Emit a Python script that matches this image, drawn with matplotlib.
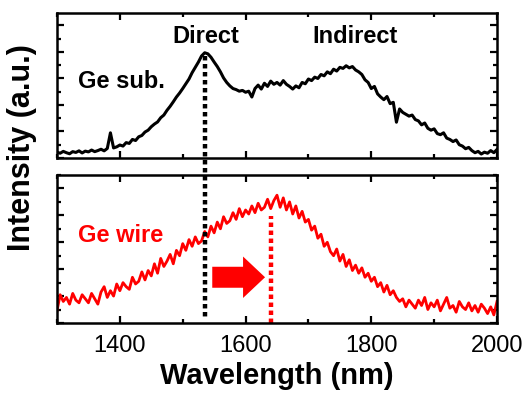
import numpy as np
import matplotlib
matplotlib.use("Agg")
import matplotlib.pyplot as plt
from matplotlib.ticker import MultipleLocator, NullFormatter
from matplotlib.lines import Line2D

plt.rcParams['font.family'] = ['Liberation Sans', 'DejaVu Sans']

# ---- data ----
wavelength = np.arange(1300, 2001, 5)

ge_sub = [
    0.22, 0.18, 0.25, 0.20, 0.16, 0.24, 0.21, 0.27, 0.19, 0.26,
    0.23, 0.30, 0.24, 0.28, 0.33, 0.27, 0.36, 0.95, 0.38, 0.42,
    0.49, 0.45, 0.58, 0.55, 0.70, 0.66, 0.80, 0.85, 0.98, 1.05,
    1.18, 1.28, 1.36, 1.52, 1.62, 1.80, 1.95, 2.12, 2.30, 2.45,
    2.62, 2.80, 2.98, 3.22, 3.42, 3.62, 3.85, 3.97, 3.93, 3.80,
    3.62, 3.45, 3.25, 3.02, 2.85, 2.72, 2.62, 2.58, 2.52, 2.55,
    2.48, 2.52, 2.30, 2.62, 2.75, 2.60, 2.82, 2.70, 2.90, 2.78,
    2.85, 2.75, 2.92, 2.78, 2.70, 2.60, 2.72, 2.65, 2.85, 2.80,
    2.98, 2.92, 3.05, 3.00, 3.15, 3.10, 3.25, 3.18, 3.35, 3.28,
    3.42, 3.38, 3.48, 3.40, 3.45, 3.32, 3.25, 3.15, 2.95, 2.85,
    2.62, 2.70, 2.42, 2.30, 2.20, 2.32, 2.05, 2.10, 1.35, 1.85,
    1.72, 1.65, 1.58, 1.62, 1.45, 1.40, 1.25, 1.32, 1.12, 1.05,
    1.10, 0.92, 0.88, 0.95, 0.75, 0.70, 0.62, 0.68, 0.50, 0.45,
    0.35, 0.40, 0.28, 0.20, 0.25, 0.15, 0.22, 0.18, 0.28, 0.20,
    0.32,
]

ge_wire = [
    0.45, 1.05, 0.80, 0.95, 0.70, 1.10, 0.85, 0.75, 1.05, 0.90,
    0.75, 1.10, 0.90, 0.70, 1.15, 1.35, 0.95, 1.20, 1.00, 1.45,
    1.20, 1.50, 1.35, 1.25, 1.70, 1.45, 1.55, 1.90, 1.60, 1.95,
    1.75, 2.20, 1.85, 2.40, 2.10, 2.30, 2.55, 2.20, 2.70, 2.50,
    2.95, 2.70, 3.10, 2.85, 3.20, 2.95, 3.05, 3.40, 3.20, 3.60,
    3.35, 3.75, 3.50, 3.95, 3.70, 3.80, 4.10, 3.85, 4.25, 3.95,
    4.20, 4.05, 4.35, 4.10, 4.45, 4.20, 4.30, 4.60, 4.25, 4.55,
    4.75, 4.30, 4.65, 4.20, 4.50, 4.05, 4.35, 3.90, 4.15, 3.75,
    3.85, 3.45, 3.60, 3.15, 3.30, 2.85, 3.00, 2.65, 2.50, 2.75,
    2.30, 2.55, 2.10, 2.35, 1.95, 2.15, 1.85, 2.05, 1.70, 1.85,
    1.55, 1.70, 1.35, 1.50, 1.15, 1.40, 1.05, 1.20, 0.95, 0.80,
    0.90, 0.60, 0.85, 0.70, 0.55, 0.85, 0.65, 0.95, 0.50, 0.75,
    0.60, 0.85, 0.45, 0.70, 0.95, 0.55, 0.65, 0.40, 0.80, 0.60,
    0.50, 0.75, 0.45, 0.65, 0.40, 0.70, 0.55, 0.35, 0.60, 0.30,
    0.80,
]

xticks = [1400, 1600, 1800, 2000]
direct_peak = 1535      # nm
direct_top = 3.85       # top of dotted line in upper panel
direct_bottom = 0.2     # bottom of dotted line in lower panel
wire_peak = 1640        # nm
wire_top = 3.97
arrow_start, arrow_end = 1547, 1631
arrow_y = 1.70

fig = plt.figure(figsize=(5.26, 3.93), dpi=100)
ax1 = fig.add_axes([57/526, 1-158/393, 440/526, 145/393])
ax2 = fig.add_axes([57/526, 1-323/393, 440/526, 148/393])

ax1.plot(wavelength, ge_sub, color='black', lw=2.2)
ax2.plot(wavelength, ge_wire, color='#ff0000', lw=2.0)

ax1.set_ylim(0, 5.47)
ax2.set_ylim(0, 5.5)
for ax in (ax1, ax2):
    ax.set_xlim(1300, 2000)
    ax.xaxis.set_major_locator(MultipleLocator(200))
    ax.xaxis.set_minor_locator(MultipleLocator(100))
    ax.yaxis.set_major_locator(MultipleLocator(1))
    ax.yaxis.set_minor_locator(MultipleLocator(0.5))
    ax.yaxis.set_major_formatter(NullFormatter())
    ax.tick_params(which='both', direction='in', top=True, right=True, width=1.6)
    ax.tick_params(which='major', length=5)
    ax.tick_params(which='minor', length=3)
    for s in ax.spines.values():
        s.set_linewidth(1.8)

ax1.xaxis.set_major_formatter(NullFormatter())
ax2.set_xticks(xticks)
ax2.set_xticklabels([str(v) for v in xticks], fontsize=17)
ax2.tick_params(axis='x', pad=9)

ax2.set_xlabel('Wavelength (nm)', fontsize=21, fontweight='bold', labelpad=3)
fig.text(0.042, 0.625, 'Intensity (a.u.)', rotation=90, fontsize=22,
         fontweight='bold', ha='center', va='center')

ax1.text(1537, 4.6, 'Direct', fontsize=17, fontweight='bold', ha='center', va='center')
ax1.text(1774, 4.6, 'Indirect', fontsize=17, fontweight='bold', ha='center', va='center')
ax1.text(1334, 2.9, 'Ge sub.', fontsize=17, fontweight='bold', ha='left', va='center')
ax2.text(1334, 3.25, 'Ge wire', fontsize=17, fontweight='bold', ha='left', va='center',
         color='#ff0000')

# red dotted line (wire peak)
ax2.plot([wire_peak, wire_peak], [0, wire_top], color='#ff0000', lw=3.2,
         linestyle=(0, (1, 0.8)), clip_on=False)

# black dotted line spanning both panels
p_top = fig.transFigure.inverted().transform(ax1.transData.transform((direct_peak, direct_top)))
p_bot = fig.transFigure.inverted().transform(ax2.transData.transform((direct_peak, direct_bottom)))
fig.add_artist(Line2D([p_top[0], p_bot[0]], [p_top[1], p_bot[1]], color='black', lw=3.2,
                      linestyle=(0, (1, 0.8)), transform=fig.transFigure, zorder=5))

# arrow
ax2.arrow(arrow_start, arrow_y, arrow_end - arrow_start - 35, 0, width=0.78,
          head_width=1.54, head_length=35, length_includes_head=False,
          color='#ff0000', lw=0)

fig.savefig('out.png', dpi=100)
